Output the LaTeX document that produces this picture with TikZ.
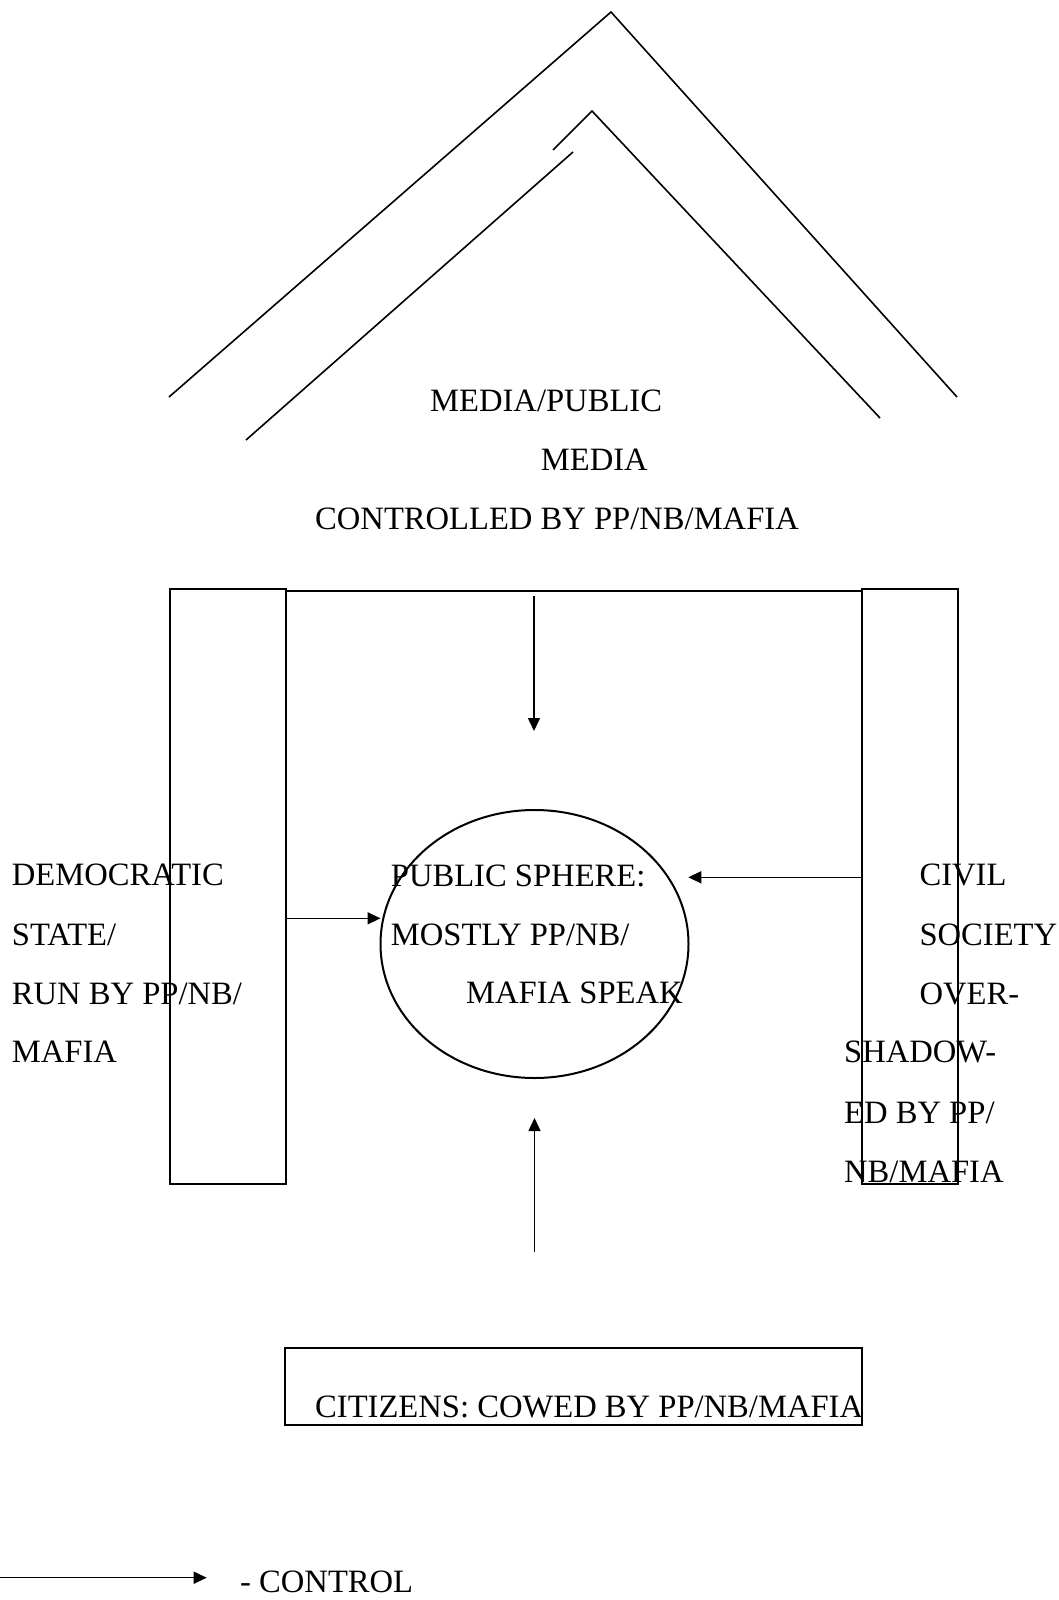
\documentclass[tikz,border=0pt]{standalone}
\usepackage{fontspec}
\setmainfont{Liberation Serif}
\usetikzlibrary{shapes.geometric,arrows.meta}
\begin{document}
\begin{tikzpicture}[x=1pt,y=-1pt,
  lbl/.style={anchor=base west,inner sep=0pt,font=\fontsize{32.6}{39}\selectfont},
  boxline/.style={draw=black,line width=2pt},
  roof/.style={draw=black,line width=1.6pt},
  ctrl/.style={draw=black,line width=1.5pt,-{Triangle[length=13pt,width=12pt]}}]
\fill[white] (0,0) rectangle (1059,1600);
\useasboundingbox (0,0) rectangle (1059,1600);
% roof (media)
\coordinate (oL) at (169,397);
\coordinate (oT) at (611,12);
\coordinate (oR) at (957,397);
\coordinate (iS) at (553,150);
\coordinate (iT) at (592,111);
\coordinate (iR) at (880,418);
\coordinate (iA) at (573,152);
\coordinate (iB) at (246,440);
\draw[roof] (oL) -- (oT) -- (oR);
\draw[roof] (iS) -- (iT) -- (iR);
\draw[roof] (iA) -- (iB);
\node[lbl] (media1) at (430,411.7) {MEDIA/PUBLIC};
\node[lbl] (media2) at (540.7,470.7) {MEDIA};
\node[lbl] (media3) at (315,529.7) {CONTROLLED BY PP/NB/MAFIA};
% columns
\node[boxline,rectangle,inner sep=0pt,minimum width=115.5pt,minimum height=595pt,anchor=north west] (state) at (169,588.3) {};
\node[boxline,rectangle,inner sep=0pt,minimum width=96pt,minimum height=595pt,anchor=north west] (civil) at (860.7,588.3) {};
\draw[boxline] (state.east |- 0,590.7) -- (civil.west |- 0,590.7);
% public sphere
\node[draw=black,line width=2pt,ellipse,inner sep=0pt,minimum width=308pt,minimum height=268pt] (sphere) at (534.5,944) {};
% citizens box
\node[boxline,rectangle,inner sep=0pt,minimum width=576.7pt,minimum height=77pt,anchor=north west] (citizens) at (284,1347.3) {};
\node[lbl] (citext) at (315,1417.3) {CITIZENS: COWED BY PP/NB/MAFIA};
% left texts
\node[lbl] (l1) at (11.7,885.7) {DEMOCRATIC};
\node[lbl] (l2) at (11.7,945) {STATE/};
\node[lbl] (l3) at (11.7,1004.3) {RUN BY PP/NB/};
\node[lbl] (l4) at (11.7,1062.7) {MAFIA};
% sphere texts
\node[lbl] (s1) at (390.7,886) {PUBLIC SPHERE:};
\node[lbl] (s2) at (390.7,945) {MOSTLY PP/NB/};
\node[lbl] (s3) at (466,1003.3) {MAFIA SPEAK};
% right texts
\node[lbl] (r1) at (919.3,885.7) {CIVIL};
\node[lbl] (r2) at (919.3,945) {SOCIETY};
\node[lbl] (r3) at (919.3,1004) {OVER-};
\node[lbl] (r4) at (844,1062.7) {SHADOW-};
\node[lbl] (r5) at (844,1123.3) {ED BY PP/};
\node[lbl] (r6) at (844,1182.3) {NB/MAFIA};
% arrows
\coordinate (topS) at (534,596);
\coordinate (topE) at (534,731);
\draw[ctrl] (topS) -- (topE);
\coordinate (leftS) at (284.5,918.3);
\coordinate (leftE) at (380.5,918.3);
\draw[ctrl] (leftS) -- (leftE);
\coordinate (rightS) at (860.7,877.3);
\coordinate (rightE) at (688.3,877.3);
\draw[ctrl] (rightS) -- (rightE);
\coordinate (botS) at (534.5,1252);
\coordinate (botE) at (534.5,1118);
\draw[ctrl] (botS) -- (botE);
% legend
\coordinate (legS) at (0,1577.7);
\coordinate (legE) at (206.7,1577.7);
\draw[ctrl] (legS) -- (legE);
\node[lbl] (legtext) at (240,1592) {- CONTROL};
\end{tikzpicture}
\end{document}
